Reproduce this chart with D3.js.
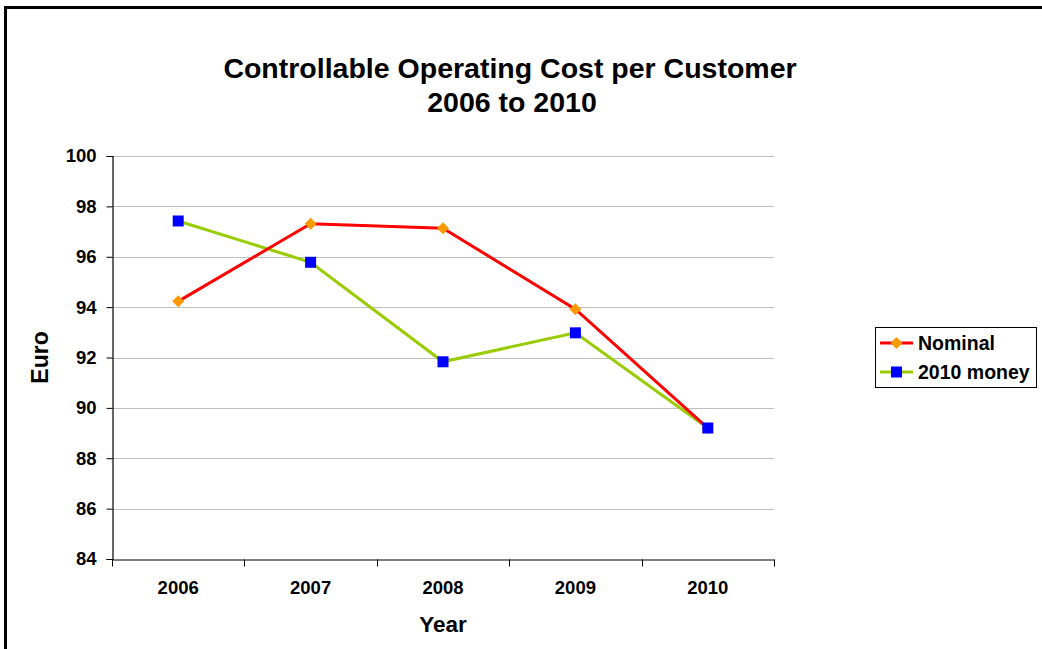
<!DOCTYPE html>
<html>
<head>
<meta charset="utf-8">
<script src="https://cdn.jsdelivr.net/npm/d3@7"></script>
<style>
  html, body { margin: 0; padding: 0; background: #fff; }
  svg { display: block; font-family: "Liberation Sans", Arial, sans-serif; }
</style>
</head>
<body>
<svg id="chart" width="1042" height="649"></svg>
<script>
// Chart data
const years = ["2006", "2007", "2008", "2009", "2010"];
const nominal = [94.23, 97.31, 97.13, 93.92, 89.2];
const money2010 = [97.42, 95.78, 91.83, 92.98, 89.2];
const yTicks = [84, 86, 88, 90, 92, 94, 96, 98, 100];
const seriesNames = ["Nominal", "2010 money"];

const svg = d3.select("#chart");
const W = 1042, H = 649;

// Outer frame (runs past the right and bottom edges)
svg.append("rect")
  .attr("x", 5.5).attr("y", 7.5)
  .attr("width", W + 20).attr("height", H + 20)
  .attr("fill", "#fff").attr("stroke", "#000").attr("stroke-width", 3);

const plot = { left: 112, right: 774, top: 156, bottom: 559 };

const x = d3.scaleBand().domain(years).range([plot.left, plot.right]);
const y = d3.scaleLinear().domain([84, 100]).range([plot.bottom, plot.top]);

// Horizontal gridlines
svg.append("g").selectAll("line")
  .data(yTicks.filter(d => d > 84))
  .join("line")
  .attr("x1", plot.left).attr("x2", plot.right)
  .attr("y1", d => Math.round(y(d)) + 0.5).attr("y2", d => Math.round(y(d)) + 0.5)
  .attr("stroke", "#c0c0c0").attr("stroke-width", 1);

// Y axis
const yAxis = svg.append("g")
  .attr("transform", `translate(${plot.left + 0.5},0)`)
  .call(d3.axisLeft(y).tickValues(yTicks).tickSize(6).tickPadding(10).tickFormat(d3.format("d")));
yAxis.select(".domain").attr("stroke", "#000").attr("stroke-width", 1.2);
yAxis.selectAll(".tick line").attr("stroke", "#000");
yAxis.selectAll(".tick text")
  .attr("font-family", "Liberation Sans, Arial, sans-serif")
  .attr("font-size", 18.5).attr("font-weight", "bold").attr("fill", "#000");

// X axis with ticks at category boundaries
const xAxis = svg.append("g")
  .attr("transform", `translate(0,${plot.bottom + 0.5})`)
  .call(d3.axisBottom(x).tickSize(0).tickPadding(21));
xAxis.select(".domain").attr("stroke", "#000").attr("stroke-width", 1.2);
xAxis.selectAll(".tick text")
  .attr("font-family", "Liberation Sans, Arial, sans-serif")
  .attr("font-size", 18.5).attr("font-weight", "bold").attr("fill", "#000");
const bounds = years.map(d => x(d)).concat([x(years[years.length - 1]) + x.bandwidth()]);
xAxis.append("g").selectAll("line")
  .data(bounds)
  .join("line")
  .attr("x1", d => Math.round(d) + 0.5).attr("x2", d => Math.round(d) + 0.5)
  .attr("y1", 0).attr("y2", 7)
  .attr("stroke", "#000");

// Title
const title = svg.append("text")
  .attr("text-anchor", "middle")
  .attr("font-size", 28.5).attr("font-weight", "bold").attr("fill", "#000");
title.append("tspan").attr("x", 510).attr("y", 78).text("Controllable Operating Cost per Customer");
title.append("tspan").attr("x", 512).attr("y", 112).text("2006 to 2010");

// Axis titles
svg.append("text")
  .attr("transform", `translate(48,${(plot.top + plot.bottom) / 2}) rotate(-90)`)
  .attr("text-anchor", "middle")
  .attr("font-size", 23).attr("font-weight", "bold").text("Euro");
svg.append("text")
  .attr("x", 443).attr("y", 632)
  .attr("text-anchor", "middle")
  .attr("font-size", 22.5).attr("font-weight", "bold").text("Year");

const cx = d => x(d) + x.bandwidth() / 2;
const line = d3.line().x((d, i) => cx(years[i])).y(d => y(d));

const series = [
  { name: seriesNames[0], values: nominal, color: "#ff0000", marker: "diamond", fill: "#ff9900" },
  { name: seriesNames[1], values: money2010, color: "#99cc00", marker: "square", fill: "#0000ff" }
];

function drawMarker(g, type, fill) {
  if (type === "diamond") {
    g.append("path").attr("d", "M0,-6L6,0L0,6L-6,0Z").attr("fill", fill);
  } else {
    g.append("rect").attr("x", -5.5).attr("y", -5.5).attr("width", 11).attr("height", 11).attr("fill", fill);
  }
}

// Draw the series: second series underneath the first where they overlap
[series[1], series[0]].forEach(s => {
  svg.append("path")
    .datum(s.values)
    .attr("d", line)
    .attr("fill", "none").attr("stroke", s.color).attr("stroke-width", 3);
});
[series[0], series[1]].forEach(s => {
  s.values.forEach((v, i) => {
    const g = svg.append("g").attr("transform", `translate(${cx(years[i])},${y(v)})`);
    drawMarker(g, s.marker, s.fill);
  });
});

// Legend
const lg = svg.append("g").attr("transform", "translate(875,327)");
lg.append("rect").attr("x", 0.5).attr("y", 0.5).attr("width", 161).attr("height", 60)
  .attr("fill", "#fff").attr("stroke", "#000").attr("stroke-width", 1);
series.forEach((s, i) => {
  const row = lg.append("g").attr("transform", `translate(0,${16 + i * 29})`);
  row.append("line").attr("x1", 5).attr("x2", 38).attr("y1", 0).attr("y2", 0)
    .attr("stroke", s.color).attr("stroke-width", 3);
  const m = row.append("g").attr("transform", "translate(21.5,0)");
  drawMarker(m, s.marker, s.fill);
  row.append("text").attr("x", 43).attr("y", 7)
    .attr("font-size", 19.5).attr("font-weight", "bold").text(s.name);
});
</script>
</body>
</html>
